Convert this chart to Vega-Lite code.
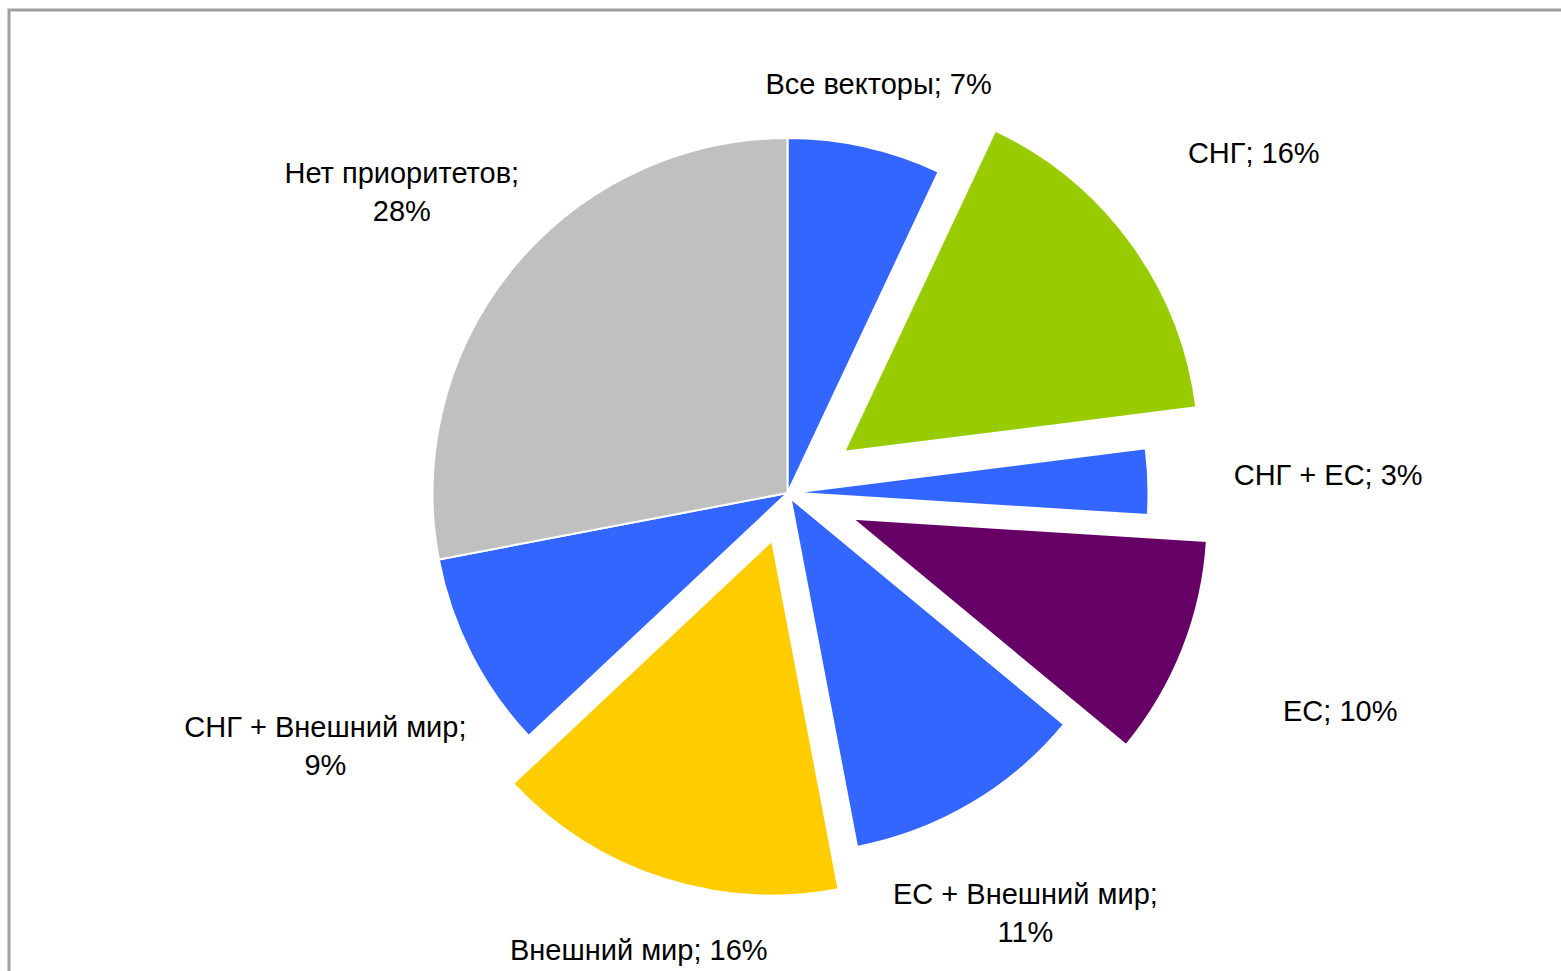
{
  "$schema": "https://vega.github.io/schema/vega-lite/v6.json",
  "autosize": {"type": "fit", "contains": "padding"},
  "width": 1561,
  "height": 971,
  "padding": {"left": 9, "top": 10, "right": -5, "bottom": -5},
  "background": "white",
  "view": {"stroke": "#a0a0a0", "strokeWidth": 3, "fill": "white"},
  "config": {
    "view": {"stroke": "#a0a0a0", "strokeWidth": 3},
    "text": {"font": "Liberation Sans"}
  },
  "data": {
    "values": [
      {"category": "Все векторы", "value": 7, "label": "Все векторы; 7%"},
      {"category": "СНГ", "value": 16, "label": "СНГ; 16%"},
      {"category": "СНГ + ЕС", "value": 3, "label": "СНГ + ЕС; 3%"},
      {"category": "ЕС", "value": 10, "label": "ЕС; 10%"},
      {"category": "ЕС + Внешний мир", "value": 11, "label": "ЕС + Внешний мир;\n11%"},
      {"category": "Внешний мир", "value": 16, "label": "Внешний мир; 16%"},
      {"category": "СНГ + Внешний мир", "value": 9, "label": "СНГ + Внешний мир;\n9%"},
      {"category": "Нет приоритетов", "value": 28, "label": "Нет приоритетов;\n28%"}
    ]
  },
  "transform": [{"window": [{"op": "row_number", "as": "idx"}]}],
  "encoding": {
    "theta": {"field": "value", "type": "quantitative", "stack": true, "scale": {"domain": [0, 100]}},
    "order": {"field": "idx", "type": "quantitative"},
    "detail": {"field": "category", "type": "nominal"}
  },
  "layer": [
    {
      "mark": {
        "type": "arc",
        "radius": 355,
        "stroke": "white",
        "strokeWidth": 2,
        "xOffset": {"expr": "((datum.category==='СНГ'||datum.category==='ЕС')?70:datum.category==='Внешний мир'?50:(datum.category==='СНГ + ЕС'||datum.category==='ЕС + Внешний мир')?6:0)*sin(PI*(datum.value_start+datum.value_end)/100)"},
        "yOffset": {"expr": "-((datum.category==='СНГ'||datum.category==='ЕС')?70:datum.category==='Внешний мир'?50:(datum.category==='СНГ + ЕС'||datum.category==='ЕС + Внешний мир')?6:0)*cos(PI*(datum.value_start+datum.value_end)/100)"}
      },
      "encoding": {
        "color": {
          "field": "category",
          "type": "nominal",
          "scale": {
            "domain": ["Все векторы", "СНГ", "СНГ + ЕС", "ЕС", "ЕС + Внешний мир", "Внешний мир", "СНГ + Внешний мир", "Нет приоритетов"],
            "range": ["#3366FF", "#99CC00", "#3366FF", "#660066", "#3366FF", "#FFCC00", "#3366FF", "#C0C0C0"]
          },
          "legend": null
        }
      }
    },
    {
      "mark": {
        "type": "text",
        "radius": 385,
        "fontSize": 29,
        "color": "black",
        "lineBreak": "\n",
        "lineHeight": 38,
        "xOffset": {"expr": "(((datum.category==='СНГ'||datum.category==='ЕС')?70:datum.category==='Внешний мир'?50:(datum.category==='СНГ + ЕС'||datum.category==='ЕС + Внешний мир')?6:0)+150*abs(sin(PI*(datum.value_start+datum.value_end)/100)))*sin(PI*(datum.value_start+datum.value_end)/100)"},
        "yOffset": {"expr": "-(((datum.category==='СНГ'||datum.category==='ЕС')?70:datum.category==='Внешний мир'?50:(datum.category==='СНГ + ЕС'||datum.category==='ЕС + Внешний мир')?6:0)+150*abs(sin(PI*(datum.value_start+datum.value_end)/100)))*cos(PI*(datum.value_start+datum.value_end)/100)"}
      },
      "encoding": {
        "text": {"field": "label", "type": "nominal"}
      }
    }
  ]
}
